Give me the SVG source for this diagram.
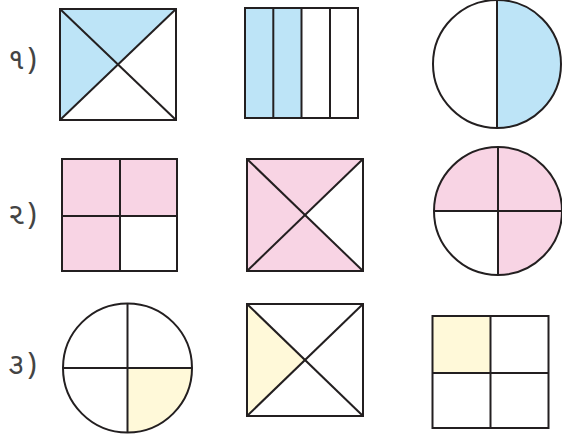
<svg xmlns="http://www.w3.org/2000/svg" width="562" height="437" viewBox="0 0 562 437">
<style>
.s{stroke:#231f20;stroke-width:2;fill:none;stroke-linejoin:miter}
.b{fill:#bde4f7}
.p{fill:#f8d4e4}
.y{fill:#fff9d9}
.w{fill:#ffffff}
.lbl{font-family:"Noto Sans Gujarati","Noto Sans","DejaVu Sans",sans-serif;font-size:30px;letter-spacing:3px;fill:#444444}
</style>
<rect width="562" height="437" fill="#ffffff"/>
<g id="labels">
<text class="lbl" x="8" y="69">૧)</text>
<text class="lbl" x="8" y="224">૨)</text>
<text class="lbl" x="8" y="374">૩)</text>
</g>
<g id="r1a">
<rect class="w" x="60" y="9" width="116" height="111"/>
<polygon class="b" points="60,9 176,9 118,64.5 60,120"/>
<rect class="s" x="60" y="9" width="116" height="111"/>
<line class="s" x1="60" y1="9" x2="176" y2="120"/>
<line class="s" x1="176" y1="9" x2="60" y2="120"/>
</g>
<g id="r1b">
<rect class="b" x="245" y="8" width="56.5" height="110"/>
<rect class="s" x="245" y="8" width="113" height="110"/>
<line class="s" x1="273.3" y1="8" x2="273.3" y2="118"/>
<line class="s" x1="301.5" y1="8" x2="301.5" y2="118"/>
<line class="s" x1="330" y1="8" x2="330" y2="118"/>
</g>
<g id="r1c">
<path class="b" d="M497,0 A64,64 0 0 1 497,128 Z"/>
<circle class="s" cx="497" cy="64" r="64"/>
<line class="s" x1="497" y1="0" x2="497" y2="128"/>
</g>
<g id="r2a">
<rect class="p" x="62" y="159" width="115" height="112"/>
<rect class="w" x="120" y="216" width="57" height="55"/>
<rect class="s" x="62" y="159" width="115" height="112"/>
<line class="s" x1="120" y1="159" x2="120" y2="271"/>
<line class="s" x1="62" y1="216" x2="177" y2="216"/>
</g>
<g id="r2b">
<rect class="p" x="247" y="159" width="116" height="112"/>
<polygon class="w" points="363,159 305,215 363,271"/>
<rect class="s" x="247" y="159" width="116" height="112"/>
<line class="s" x1="247" y1="159" x2="363" y2="271"/>
<line class="s" x1="363" y1="159" x2="247" y2="271"/>
</g>
<g id="r2c">
<circle class="p" cx="498" cy="211" r="64"/>
<path class="w" d="M498,211 L434,211 A64,64 0 0 0 498,275 Z"/>
<circle class="s" cx="498" cy="211" r="64"/>
<line class="s" x1="498" y1="147" x2="498" y2="275"/>
<line class="s" x1="434" y1="211" x2="562" y2="211"/>
</g>
<g id="r3a">
<path class="y" d="M127.5,368 L192,368 A64.5,64.5 0 0 1 127.5,432.5 Z"/>
<circle class="s" cx="127.5" cy="368" r="64.5"/>
<line class="s" x1="127.5" y1="303.5" x2="127.5" y2="432.5"/>
<line class="s" x1="63" y1="368" x2="192" y2="368"/>
</g>
<g id="r3b">
<polygon class="y" points="247,304 305,360 247,416"/>
<rect class="s" x="247" y="304" width="116" height="112"/>
<line class="s" x1="247" y1="304" x2="363" y2="416"/>
<line class="s" x1="363" y1="304" x2="247" y2="416"/>
</g>
<g id="r3c">
<rect class="y" x="432.5" y="316" width="58" height="57"/>
<rect class="s" x="432.5" y="316" width="116" height="112"/>
<line class="s" x1="490.5" y1="316" x2="490.5" y2="428"/>
<line class="s" x1="432.5" y1="373" x2="548.5" y2="373"/>
</g>
</svg>
